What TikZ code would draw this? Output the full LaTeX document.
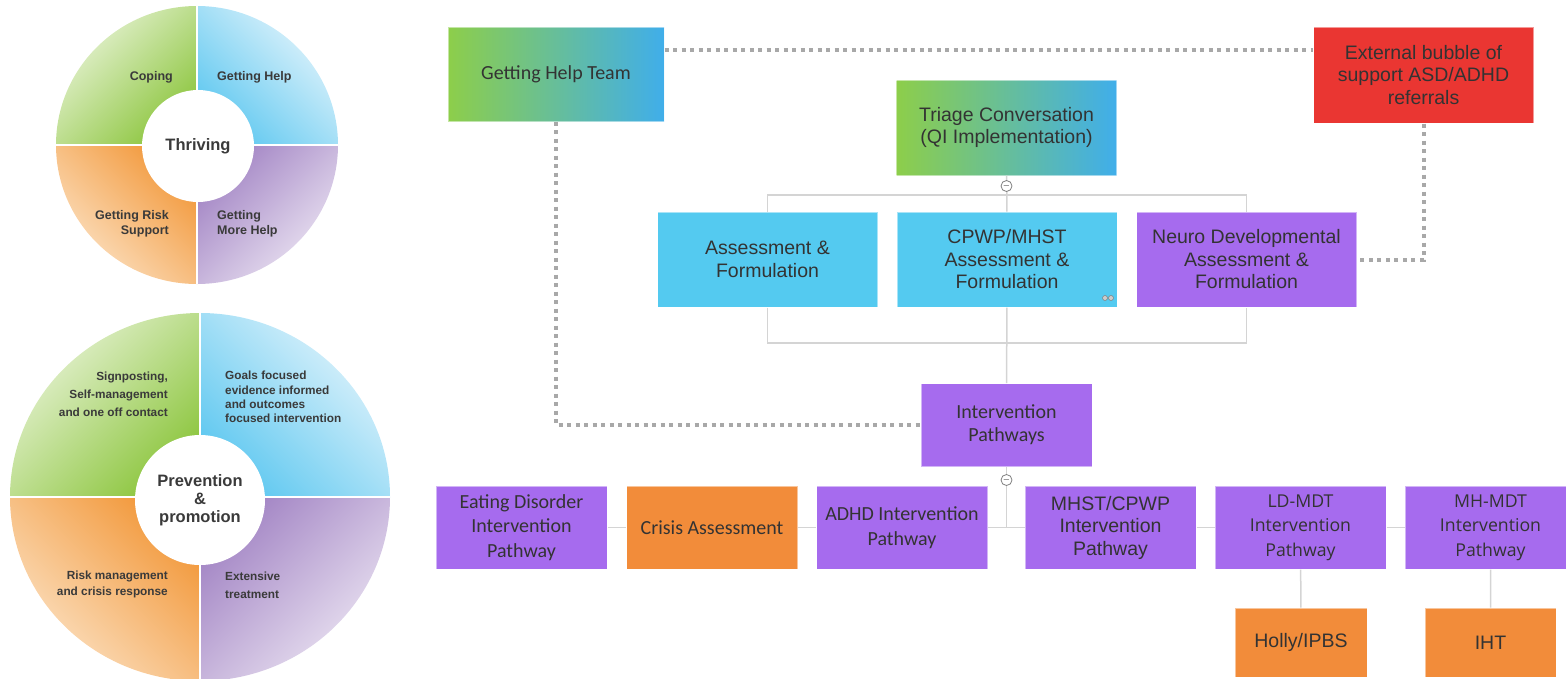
\documentclass[tikz,border=0pt]{standalone}
\usepackage{fontspec}
\setmainfont{Liberation Sans}
\newfontfamily\calfont{Carlito}
\newfontfamily\opfont{Open Sans}

\definecolor{txt}{RGB}{51,51,51}
\definecolor{wtxt}{RGB}{58,58,58}
\definecolor{bcyan}{RGB}{84,202,240}
\definecolor{bpurple}{RGB}{166,107,238}
\definecolor{borange}{RGB}{242,140,58}
\definecolor{bred}{RGB}{234,54,50}
\definecolor{gradl}{RGB}{141,206,74}
\definecolor{gradm}{RGB}{80,192,150}
\definecolor{gradr}{RGB}{64,174,234}
\definecolor{treegray}{RGB}{212,212,212}
\definecolor{dotgray}{RGB}{168,168,168}
\definecolor{wgrn}{RGB}{141,198,63}
\definecolor{wgrnl}{RGB}{234,244,218}
\definecolor{wcyan}{RGB}{95,200,240}
\definecolor{wcyanl}{RGB}{230,245,252}
\definecolor{worange}{RGB}{242,152,58}
\definecolor{worangel}{RGB}{252,228,200}
\definecolor{wpurple}{RGB}{162,132,196}
\definecolor{wpurplel}{RGB}{238,232,244}

\begin{document}
\begin{tikzpicture}[x = 1pt, y = -1pt,
	box/.style = {minimum width = 171pt, minimum height = 83pt, inner sep = 1pt, align = center, text = txt,
		draw = white, draw opacity = 0.5, line width = 1pt, font = \fontsize{19.5}{22.5}\selectfont},
	wide/.style = {box, minimum width = 220pt, minimum height = 95pt},
	cal/.style = {font = \calfont\fontsize{20}{24.5}\selectfont},
	opn/.style = {font = \opfont\fontsize{17.7}{24.5}\selectfont},
	grad/.style = {left color = gradl, middle color = gradm, right color = gradr},
	tree/.style = {draw = treegray, line width = 1.5pt},
	dots/.style = {draw = dotgray, line width = 4pt, dash pattern = on 4pt off 4.5pt},
	toggle/.style = {circle, draw = gray, fill = white, line width = 0.8pt, minimum size = 11pt, inner sep = 0pt},
	hub/.style = {circle, fill = white, inner sep = 0pt, align = center, text = wtxt,
		font = \fontsize{16.5}{18}\bfseries\selectfont},
	wtext/.style = {inner sep = 0pt, text = wtxt, font = \fontsize{12.5}{15.5}\bfseries\selectfont}]

	\useasboundingbox (0,0) rectangle (1566,678);
	\clip (0,0) rectangle (1566,678);

	% thriving wheel
	\path[top color = wgrnl, bottom color = wgrn, shading angle = 45]
		(197,145) -- (56,145) arc[start angle = 180, end angle = 270, x radius = 141, y radius = 139] -- cycle;
	\path[top color = wcyanl, bottom color = wcyan, shading angle = -45]
		(197,145) -- (197,6) arc[start angle = 270, end angle = 360, x radius = 141, y radius = 139] -- cycle;
	\path[top color = wpurple, bottom color = wpurplel, shading angle = 45]
		(197,145) -- (338,145) arc[start angle = 0, end angle = 90, x radius = 141, y radius = 139] -- cycle;
	\path[top color = worange, bottom color = worangel, shading angle = -45]
		(197,145) -- (197,284) arc[start angle = 90, end angle = 180, x radius = 141, y radius = 139] -- cycle;
	\draw[white, line width = 2pt] (56,145) -- (338,145) (197,6) -- (197,284);
	\node[hub, minimum size = 112pt] (thrive) at (198,146) {Thriving};
	\node[wtext, anchor = east] (coping) at (173,77) {Coping};
	\node[wtext, anchor = west] (gethelp) at (217,77) {Getting Help};
	\node[wtext, anchor = east, align = right] (risk) at (169,224) {Getting Risk\\Support};
	\node[wtext, anchor = west, align = left] (morehelp) at (217,224) {Getting\\More Help};

	% prevention wheel
	\path[top color = wgrnl, bottom color = wgrn, shading angle = 45]
		(200,497) -- (10,497) arc[start angle = 180, end angle = 270, x radius = 190, y radius = 184] -- cycle;
	\path[top color = wcyanl, bottom color = wcyan, shading angle = -45]
		(200,497) -- (200,313) arc[start angle = 270, end angle = 360, x radius = 190, y radius = 184] -- cycle;
	\path[top color = wpurple, bottom color = wpurplel, shading angle = 45]
		(200,497) -- (390,497) arc[start angle = 0, end angle = 90, x radius = 190, y radius = 184] -- cycle;
	\path[top color = worange, bottom color = worangel, shading angle = -45]
		(200,497) -- (200,681) arc[start angle = 90, end angle = 180, x radius = 190, y radius = 184] -- cycle;
	\draw[white, line width = 2pt] (10,497) -- (390,497) (200,313) -- (200,681);
	\node[hub, minimum size = 130pt] (prevent) at (200,500) {Prevention\\\&\\promotion};
	\node[wtext, anchor = east, align = right, font = \fontsize{11.8}{18}\bfseries\selectfont] (signpost) at (168,394)
		{Signposting,\\Self-management\\and one off contact};
	\node[wtext, anchor = west, align = left, font = \fontsize{11.8}{14.4}\bfseries\selectfont] (goals) at (225,397)
		{Goals focused\\evidence informed\\and outcomes\\focused intervention};
	\node[wtext, anchor = east, align = right, font = \fontsize{11.8}{16}\bfseries\selectfont] (riskman) at (168,584)
		{Risk management\\and crisis response};
	\node[wtext, anchor = west, align = left, font = \fontsize{11.8}{18}\bfseries\selectfont] (extens) at (225,585)
		{Extensive\\treatment};

	% chart
	\node[wide, grad, cal, minimum width = 216pt, minimum height = 94pt] (help) at (556,74) {Getting Help Team};
	\node[wide, grad] (triage) at (1006.5,127.5) {Triage Conversation\\(QI Implementation)};
	\node[wide, fill = bred, minimum height = 96pt] (ext) at (1423.5,75) {External bubble of\\support ASD/ADHD\\referrals};
	\node[wide, fill = bcyan] (assess) at (767.5,259.5) {Assessment \&\\Formulation};
	\node[wide, fill = bcyan] (cpwp) at (1007,259.5) {CPWP/MHST\\Assessment \&\\Formulation};
	\node[wide, fill = bpurple] (neuro) at (1246.5,259.5) {Neuro Developmental\\Assessment \&\\Formulation};
	\node[box, cal, fill = bpurple, font = \calfont\fontsize{20}{23}\selectfont] (interv) at (1006.5,425) {Intervention\\Pathways};
	\node[box, cal, fill = bpurple] (eat) at (521.5,527.5) {Eating Disorder\\Intervention\\Pathway};
	\node[box, cal, fill = borange] (crisis) at (712,527.5) {Crisis Assessment};
	\node[box, cal, fill = bpurple] (adhd) at (902,527.5) {ADHD Intervention\\Pathway};
	\node[box, fill = bpurple] (mhst) at (1110.5,527.5) {MHST/CPWP\\Intervention\\Pathway};
	\node[box, opn, fill = bpurple] (ldmdt) at (1300.5,527.5) {LD-MDT\\Intervention\\Pathway};
	\node[box, opn, fill = bpurple] (mhmdt) at (1490.5,527.5) {MH-MDT\\Intervention\\Pathway};
	\node[box, fill = borange, minimum width = 132pt, minimum height = 69pt] (holly) at (1301,642.5) {Holly/IPBS};
	\node[box, fill = borange, minimum width = 131pt, minimum height = 69pt] (iht) at (1490.5,642.5) {IHT};

	\coordinate (split1) at (cpwp.north |- 0,195);
	\coordinate (join1) at (cpwp.south |- 0,343);
	\coordinate (split2) at (interv.south |- eat.east);

	\draw[tree] (triage) -- (cpwp);
	\draw[tree] (assess.north) |- (split1) -| (neuro.north);
	\draw[tree] (assess.south) |- (join1) -| (neuro.south);
	\draw[tree] (cpwp) -- (interv);
	\draw[tree] (interv) -- (split2);
	\draw[tree] (eat) -- (crisis) (crisis) -- (adhd) (adhd) -- (mhst) (mhst) -- (ldmdt) (ldmdt) -- (mhmdt);
	\draw[tree] (ldmdt) -- (holly) (mhmdt) -- (iht);

	\draw[dots] (help.east |- 0,50) -- (ext.west |- 0,50);
	\draw[dots] (help.south) |- (interv.west);
	\draw[dots] (ext.south) |- (neuro.east);

	\node[toggle] (tog1) at (triage.south |- 0,186) {\fontsize{9}{9}\selectfont$-$};
	\node[toggle] (tog2) at (interv.south |- 0,480) {\fontsize{9}{9}\selectfont$-$};
	\draw[gray, fill = gray!40, line width = 0.5pt] (1105,298) circle[radius = 2.5] (1111,298) circle[radius = 2.5];
\end{tikzpicture}
\end{document}
